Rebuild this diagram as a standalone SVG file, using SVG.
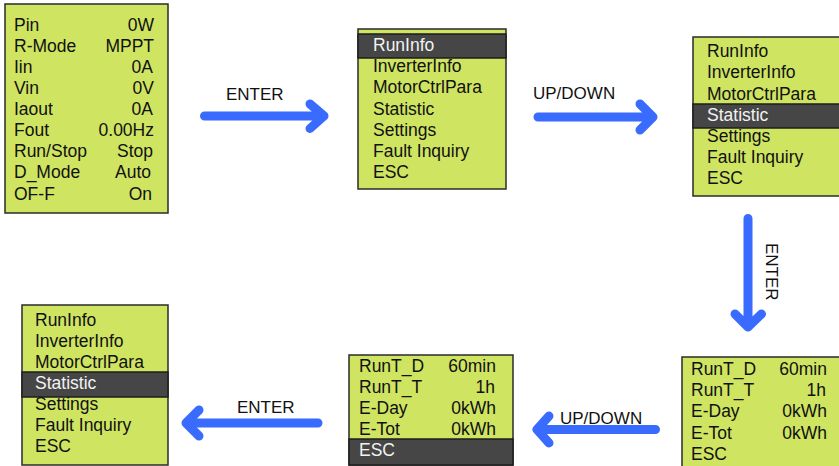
<svg xmlns="http://www.w3.org/2000/svg" width="839" height="466" viewBox="0 0 839 466">
<style>
.box{fill:#cfe461;stroke:#2b2b2b;stroke-width:1.5}
.hl{fill:#464646;stroke:#1e1e1e;stroke-width:1.5}
.t{font-family:"Liberation Sans",Arial,sans-serif;font-size:17.5px;fill:#111}
.w{fill:#f2f2f2}
.r{text-anchor:end}
.lbl{font-family:"Liberation Sans",Arial,sans-serif;font-size:17px;fill:#111}
.arr{fill:none;stroke:#3a6bff;stroke-width:9;stroke-linecap:round;stroke-linejoin:round}
</style>
<rect width="839" height="466" fill="#fff"/>
<g id="main-screen">
<rect class="box" x="5" y="4" width="163" height="209"/>
<text class="t" x="14" y="30.7">Pin</text><text class="t r" x="154" y="30.7">0W</text>
<text class="t" x="14" y="51.8">R-Mode</text><text class="t r" x="154" y="51.8">MPPT</text>
<text class="t" x="14" y="72.9">Iin</text><text class="t r" x="153" y="72.9">0A</text>
<text class="t" x="14" y="94">Vin</text><text class="t r" x="154" y="94">0V</text>
<text class="t" x="14" y="115.1">Iaout</text><text class="t r" x="153" y="115.1">0A</text>
<text class="t" x="14" y="136.2">Fout</text><text class="t r" x="154" y="136.2">0.00Hz</text>
<text class="t" x="14" y="157.3">Run/Stop</text><text class="t r" x="153" y="157.3">Stop</text>
<text class="t" x="14" y="178.4">D_Mode</text><text class="t r" x="151" y="178.4">Auto</text>
<text class="t" x="14" y="199.5">OF-F</text><text class="t r" x="152" y="199.5">On</text>
</g>
<g id="menu-runinfo">
<rect class="box" x="358" y="29" width="148" height="160"/>
<rect class="hl" x="358" y="34" width="148" height="24"/>
<text class="t w" x="373" y="51">RunInfo</text>
<text class="t" x="373" y="72.2">InverterInfo</text>
<text class="t" x="373" y="93.4">MotorCtrlPara</text>
<text class="t" x="373" y="114.6">Statistic</text>
<text class="t" x="373" y="135.8">Settings</text>
<text class="t" x="373" y="157">Fault Inquiry</text>
<text class="t" x="373" y="178.2">ESC</text>
</g>
<g id="menu-statistic">
<rect class="box" x="693" y="37" width="152" height="159"/>
<rect class="hl" x="693" y="104" width="152" height="24"/>
<text class="t" x="707" y="57.3">RunInfo</text>
<text class="t" x="707" y="78.4">InverterInfo</text>
<text class="t" x="707" y="99.5">MotorCtrlPara</text>
<text class="t w" x="707" y="120.6">Statistic</text>
<text class="t" x="707" y="141.7">Settings</text>
<text class="t" x="707" y="162.8">Fault Inquiry</text>
<text class="t" x="707" y="183.9">ESC</text>
</g>
<g id="stat-screen">
<rect class="box" x="682" y="357" width="165" height="115"/>
<text class="t" x="691" y="375">RunT_D</text><text class="t r" x="827" y="375">60min</text>
<text class="t" x="691" y="396.2">RunT_T</text><text class="t r" x="826" y="396.2">1h</text>
<text class="t" x="691" y="417.4">E-Day</text><text class="t r" x="827" y="417.4">0kWh</text>
<text class="t" x="691" y="438.6">E-Tot</text><text class="t r" x="827" y="438.6">0kWh</text>
<text class="t" x="691" y="459.8">ESC</text>
</g>
<g id="stat-esc">
<rect class="box" x="349" y="355" width="164" height="110"/>
<rect class="hl" x="349" y="439" width="164" height="26"/>
<text class="t" x="359" y="372">RunT_D</text><text class="t r" x="496" y="372">60min</text>
<text class="t" x="359" y="393">RunT_T</text><text class="t r" x="495" y="393">1h</text>
<text class="t" x="359" y="414">E-Day</text><text class="t r" x="496" y="414">0kWh</text>
<text class="t" x="359" y="435">E-Tot</text><text class="t r" x="496" y="435">0kWh</text>
<text class="t w" x="359" y="456">ESC</text>
</g>
<g id="menu-back">
<rect class="box" x="22" y="305" width="146" height="160"/>
<rect class="hl" x="22" y="372" width="146" height="25"/>
<text class="t" x="35" y="325.7">RunInfo</text>
<text class="t" x="35" y="346.7">InverterInfo</text>
<text class="t" x="35" y="367.7">MotorCtrlPara</text>
<text class="t w" x="35" y="388.7">Statistic</text>
<text class="t" x="35" y="409.7">Settings</text>
<text class="t" x="35" y="430.7">Fault Inquiry</text>
<text class="t" x="35" y="451.7">ESC</text>
</g>
<g id="connectors">
<path class="arr" d="M204.5 116H324M310 104L324 116L310 128.5"/>
<path class="arr" d="M538 117H653M640 104L653 117L640 130"/>
<path class="arr" d="M748 218.5V327M735 314L748 327L761.5 314"/>
<path class="arr" d="M655.5 429.5H537M549 416L537 429.5L549 443"/>
<path class="arr" d="M318 423H186M199 410L186 423L199 436"/>
<text class="lbl" x="226" y="100">ENTER</text>
<text class="lbl" x="533" y="99.3">UP/DOWN</text>
<text class="lbl" transform="translate(766 243) rotate(90)">ENTER</text>
<text class="lbl" x="560" y="424">UP/DOWN</text>
<text class="lbl" x="237" y="413">ENTER</text>
</g>
</svg>
